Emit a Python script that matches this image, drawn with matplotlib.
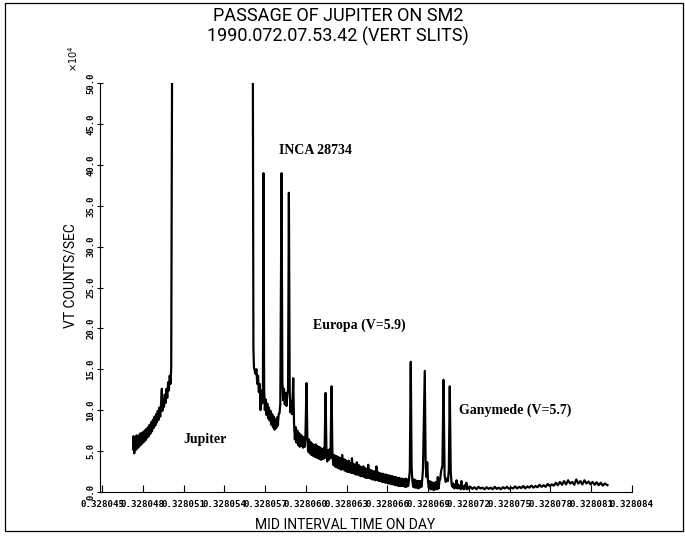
import numpy as np
import matplotlib.pyplot as plt
from matplotlib.patches import Rectangle

# time axis origin (day fraction) and tick step
T0 = 0.328045
STEP = 0.000003
n_ticks = 14

# Jupiter ingress side, offsets in 1e-6 day from T0, VT counts/sec in 1e4
jup_off = [2.28, 2.32, 2.37, 2.42, 2.48, 2.54, 2.60, 2.66, 2.72, 2.78, 2.84, 2.90,
           2.96, 3.02, 3.08, 3.14, 3.20, 3.26, 3.32, 3.38, 3.44, 3.50, 3.56, 3.62,
           3.68, 3.74, 3.80, 3.86, 3.92, 3.98, 4.04, 4.10, 4.16, 4.22, 4.28, 4.34,
           4.40, 4.44, 4.50, 4.56, 4.62, 4.68, 4.74, 4.80, 4.86, 4.92, 4.98, 5.04,
           5.09, 5.15]
jup_val = [5.2, 6.8, 4.7, 6.5, 5.1, 6.9, 5.3, 6.8, 5.5, 7.1, 5.7, 7.2,
           5.9, 7.3, 6.1, 7.5, 6.3, 7.7, 6.6, 7.9, 6.8, 8.2, 7.1, 8.5,
           7.4, 8.8, 7.8, 9.2, 8.1, 9.5, 8.5, 9.9, 8.8, 10.3, 9.2, 10.7,
           12.6, 9.9, 11.3, 10.4, 11.9, 10.9, 12.6, 11.5, 13.4, 12.4, 14.2, 13.2,
           15.2, 50.0]

# egress side with INCA 28734 and the Europa / Ganymede passages
egr_off = [11.10, 11.14, 11.18, 11.24, 11.30, 11.36, 11.42, 11.48, 11.54, 11.60,
           11.66, 11.72, 11.78, 11.84, 11.88, 11.93, 11.98, 12.04, 12.10, 12.16,
           12.22, 12.28, 12.34, 12.40, 12.46, 12.52, 12.58, 12.64, 12.70, 12.76,
           12.82, 12.88, 12.94, 13.00, 13.06, 13.12, 13.21, 13.27, 13.33, 13.39,
           13.45, 13.51, 13.57, 13.63, 13.69, 13.75, 13.81, 13.87, 13.93, 13.99,
           14.07, 14.13, 14.19, 14.25, 14.31, 14.37, 14.43, 14.49, 14.55, 14.61,
           14.67, 14.73, 14.79, 14.85, 14.91, 14.97, 15.05, 15.11, 15.17, 15.23,
           15.29, 15.35, 15.41, 15.47, 15.53, 15.59, 15.65, 15.71, 15.77, 15.83,
           15.89, 15.95, 16.01, 16.07, 16.13, 16.19, 16.25, 16.31, 16.37, 16.45,
           16.51, 16.57, 16.63, 16.69, 16.75, 16.81, 16.89, 16.95, 17.01, 17.07,
           17.13, 17.19, 17.25, 17.31, 17.37, 17.43, 17.49, 17.55, 17.61, 17.67,
           17.73, 17.79, 17.85, 17.91, 17.97, 18.03, 18.09, 18.15, 18.21, 18.27,
           18.33, 18.39, 18.45, 18.51, 18.57, 18.63, 18.69, 18.75, 18.81, 18.87,
           18.93, 18.99, 19.05, 19.11, 19.17, 19.23, 19.29, 19.35, 19.41, 19.47,
           19.53, 19.59, 19.65, 19.71, 19.77, 19.83, 19.89, 19.95, 20.01, 20.07,
           20.13, 20.19, 20.25, 20.31, 20.37, 20.43, 20.49, 20.55, 20.61, 20.67,
           20.73, 20.79, 20.85, 20.91, 20.97, 21.03, 21.09, 21.15, 21.21, 21.27,
           21.33, 21.39, 21.45, 21.51, 21.57, 21.63, 21.69, 21.75, 21.81, 21.87,
           21.93, 21.99, 22.05, 22.11, 22.17, 22.23, 22.29, 22.35, 22.41, 22.47,
           22.53, 22.59, 22.65, 22.72, 22.78, 22.84, 22.90, 22.96, 23.02, 23.08,
           23.14, 23.20, 23.26, 23.32, 23.38, 23.44, 23.50, 23.56, 23.62, 23.75,
           23.81, 23.87, 23.93, 23.99, 24.05, 24.11, 24.17, 24.23, 24.29, 24.35,
           24.41, 24.47, 24.53, 24.59, 24.65, 24.71, 24.77, 24.83, 24.89, 24.95,
           25.05, 25.13, 25.21, 25.29, 25.37, 25.45, 25.52, 25.59, 25.66, 25.73]
egr_val = [50.0, 17.5, 15.2, 14.8, 14.4, 15.0, 13.2, 14.2, 12.2, 13.2,
           10.0, 12.4, 10.8, 12.0, 39.0, 12.5, 10.0, 11.3, 9.4, 10.8,
           9.0, 10.3, 8.7, 9.9, 8.2, 9.5, 7.9, 9.2, 7.6, 8.9,
           7.8, 9.1, 8.1, 9.5, 9.6, 10.8, 39.0, 13.5, 11.2, 12.6,
           10.7, 12.1, 10.5, 11.9, 12.5, 36.6, 12.3, 9.7, 11.1, 9.5,
           13.9, 8.3, 6.4, 7.9, 6.0, 7.5, 5.7, 7.2, 5.5, 7.0,
           5.6, 6.8, 5.4, 6.7, 5.5, 6.9, 13.3, 6.5, 4.9, 6.4,
           4.7, 6.1, 4.5, 5.9, 4.4, 5.7, 4.3, 5.8, 4.2, 5.6,
           4.1, 5.5, 4.0, 5.4, 3.9, 5.2, 4.0, 5.3, 4.1, 12.1,
           5.2, 3.7, 5.1, 3.9, 5.2, 4.1, 12.9, 4.9, 3.3, 4.5,
           3.1, 4.4, 3.0, 4.3, 2.9, 4.2, 2.8, 4.1, 2.7, 4.5,
           2.8, 4.0, 2.6, 3.9, 2.5, 3.7, 2.4, 3.8, 2.4, 3.5,
           2.3, 4.1, 2.3, 3.4, 2.2, 3.3, 2.1, 3.6, 2.1, 3.3,
           2.0, 3.1, 1.9, 3.0, 1.9, 3.1, 1.8, 2.9, 1.7, 2.8,
           1.7, 3.3, 1.7, 2.7, 1.6, 2.6, 1.5, 2.5, 1.5, 2.5,
           1.4, 3.1, 1.5, 2.4, 1.3, 2.3, 1.3, 2.2, 1.2, 2.2,
           1.2, 2.1, 1.1, 2.1, 1.1, 2.0, 1.0, 2.0, 1.0, 1.9,
           0.9, 1.9, 0.9, 1.8, 0.8, 1.8, 0.8, 1.7, 0.7, 1.7,
           0.7, 1.6, 0.7, 1.6, 0.7, 1.5, 0.6, 1.6, 0.6, 1.5,
           0.7, 1.5, 2.6, 15.9, 3.0, 1.3, 0.6, 1.5, 0.5, 1.4,
           0.5, 1.3, 0.4, 1.3, 0.5, 1.3, 0.6, 1.4, 2.8, 14.8,
           3.9, 1.8, 3.6, 1.2, 0.5, 1.3, 0.3, 1.2, 0.3, 1.1,
           0.2, 1.1, 0.3, 1.2, 0.3, 1.8, 0.4, 1.3, 1.6, 2.5,
           3.2, 13.7, 2.0, 1.2, 1.6, 1.3, 2.6, 12.9, 2.4, 0.9]

# low tail after Ganymede
tail_off = [25.79, 25.85, 25.91, 25.97, 26.03, 26.09, 26.15, 26.21, 26.27, 26.33,
            26.39, 26.45, 26.51, 26.57, 26.63, 26.69, 26.75, 26.81, 26.87, 26.93,
            26.99,
            27.10, 27.25, 27.40, 27.55, 27.70, 27.85, 28.00, 28.15, 28.30, 28.45,
            28.60, 28.75, 28.90, 29.05, 29.20, 29.35, 29.50, 29.65, 29.80, 29.95,
            30.10, 30.25, 30.40, 30.55, 30.70, 30.85, 31.00, 31.15, 31.30, 31.45,
            31.60, 31.75, 31.90, 32.05, 32.20, 32.35, 32.50, 32.65, 32.80, 32.95,
            33.10, 33.25, 33.40, 33.55, 33.70, 33.85, 34.00, 34.15, 34.30, 34.45,
            34.60, 34.75, 34.90, 35.05, 35.20, 35.35, 35.50, 35.65, 35.80, 35.95,
            36.10, 36.25, 36.40, 36.55, 36.70, 36.85, 37.00, 37.20]
tail_val = [0.6, 1.0, 0.4, 0.8, 0.5, 1.4, 0.4, 0.9, 0.5, 0.7,
            0.3, 1.3, 0.4, 0.6, 0.3, 0.8, 0.4, 1.1, 0.3, 0.6,
            0.4,
            0.6, 0.35, 0.55, 0.3, 0.6, 0.4, 0.5, 0.3, 0.55, 0.35,
            0.5, 0.3, 0.6, 0.35, 0.5, 0.3, 0.55, 0.4, 0.6, 0.35,
            0.5, 0.4, 0.65, 0.4, 0.6, 0.45, 0.7, 0.4, 0.65, 0.5,
            0.75, 0.5, 0.7, 0.55, 0.85, 0.6, 0.8, 0.6, 0.95, 0.7,
            0.9, 0.75, 1.1, 0.8, 1.2, 0.85, 1.3, 0.9, 1.4, 1.0,
            1.2, 0.85, 1.5, 1.0, 1.3, 0.9, 1.4, 1.0, 1.25, 0.9,
            1.2, 0.85, 1.15, 0.8, 1.1, 0.75, 1.0, 0.8]

labels = ["Jupiter", "INCA 28734", "Europa (V=5.9)", "Ganymede (V=5.7)"]
label_off = [5.96, 13.0, 15.5, 26.3]
label_val = [6.45, 41.8, 20.4, 10.0]

t_jup = T0 + np.array(jup_off) * 1e-6
t_egr = T0 + np.array(egr_off + tail_off) * 1e-6
t = np.concatenate([t_jup, [np.nan], t_egr])
v = np.concatenate([jup_val, [np.nan], egr_val + tail_val])

fig = plt.figure(figsize=(6.85, 5.4), dpi=100)
ax = fig.add_axes([0.146, 0.0894, 0.7766, 0.7563])
ax.plot(t, v, color='black', lw=1.6)

ax.set_xlim(T0 - 0.15e-6, T0 + STEP * (n_ticks - 1))
ax.set_ylim(0, 50)
ticks = T0 + STEP * np.arange(n_ticks)
ax.set_xticks(ticks)
ax.set_xticklabels(['%.6f' % x for x in ticks], fontsize=6.6,
                   family='DejaVu Sans Mono', fontweight='bold')
ax.set_yticks(np.arange(0, 51, 5))
ax.set_yticklabels(['%.1f' % y for y in np.arange(0, 51, 5)], rotation=90,
                   fontsize=6.5, family='DejaVu Sans Mono', fontweight='bold',
                   va='center')
ax.tick_params(axis='x', direction='in', length=5, pad=6)
ax.tick_params(axis='y', direction='inout', length=5, pad=1)
ax.spines['top'].set_visible(False)
ax.spines['right'].set_visible(False)

ax.set_xlabel('MID INTERVAL TIME ON DAY', fontsize=10, family=['Roboto', 'DejaVu Sans'])
ax.xaxis.set_label_coords(0.46, -0.065)
ax.set_ylabel('VT COUNTS/SEC', fontsize=10, family=['Roboto', 'DejaVu Sans'])
ax.yaxis.set_label_coords(-0.043, 0.53)
fig.text(0.107, 0.892, r'$\times$10$^4$', rotation=90, fontsize=7, ha='center', va='center')

fig.text(0.493, 0.987, 'PASSAGE OF JUPITER ON SM2', ha='center', va='top', fontsize=13,
         family=['Roboto', 'DejaVu Sans'])
fig.text(0.493, 0.950, '1990.072.07.53.42 (VERT SLITS)', ha='center', va='top', fontsize=13,
         family=['Roboto', 'DejaVu Sans'])

for s, lo, lv in zip(labels, label_off, label_val):
    ax.text(T0 + lo * 1e-6, lv, s, fontsize=10, fontweight='bold',
            family=['Liberation Serif', 'DejaVu Serif'], ha='left', va='center')

fig.add_artist(Rectangle((0.008, 0.016), 0.989, 0.978, transform=fig.transFigure,
                         fill=False, lw=0.9, color='black'))

fig.savefig('out.png', dpi=100)
